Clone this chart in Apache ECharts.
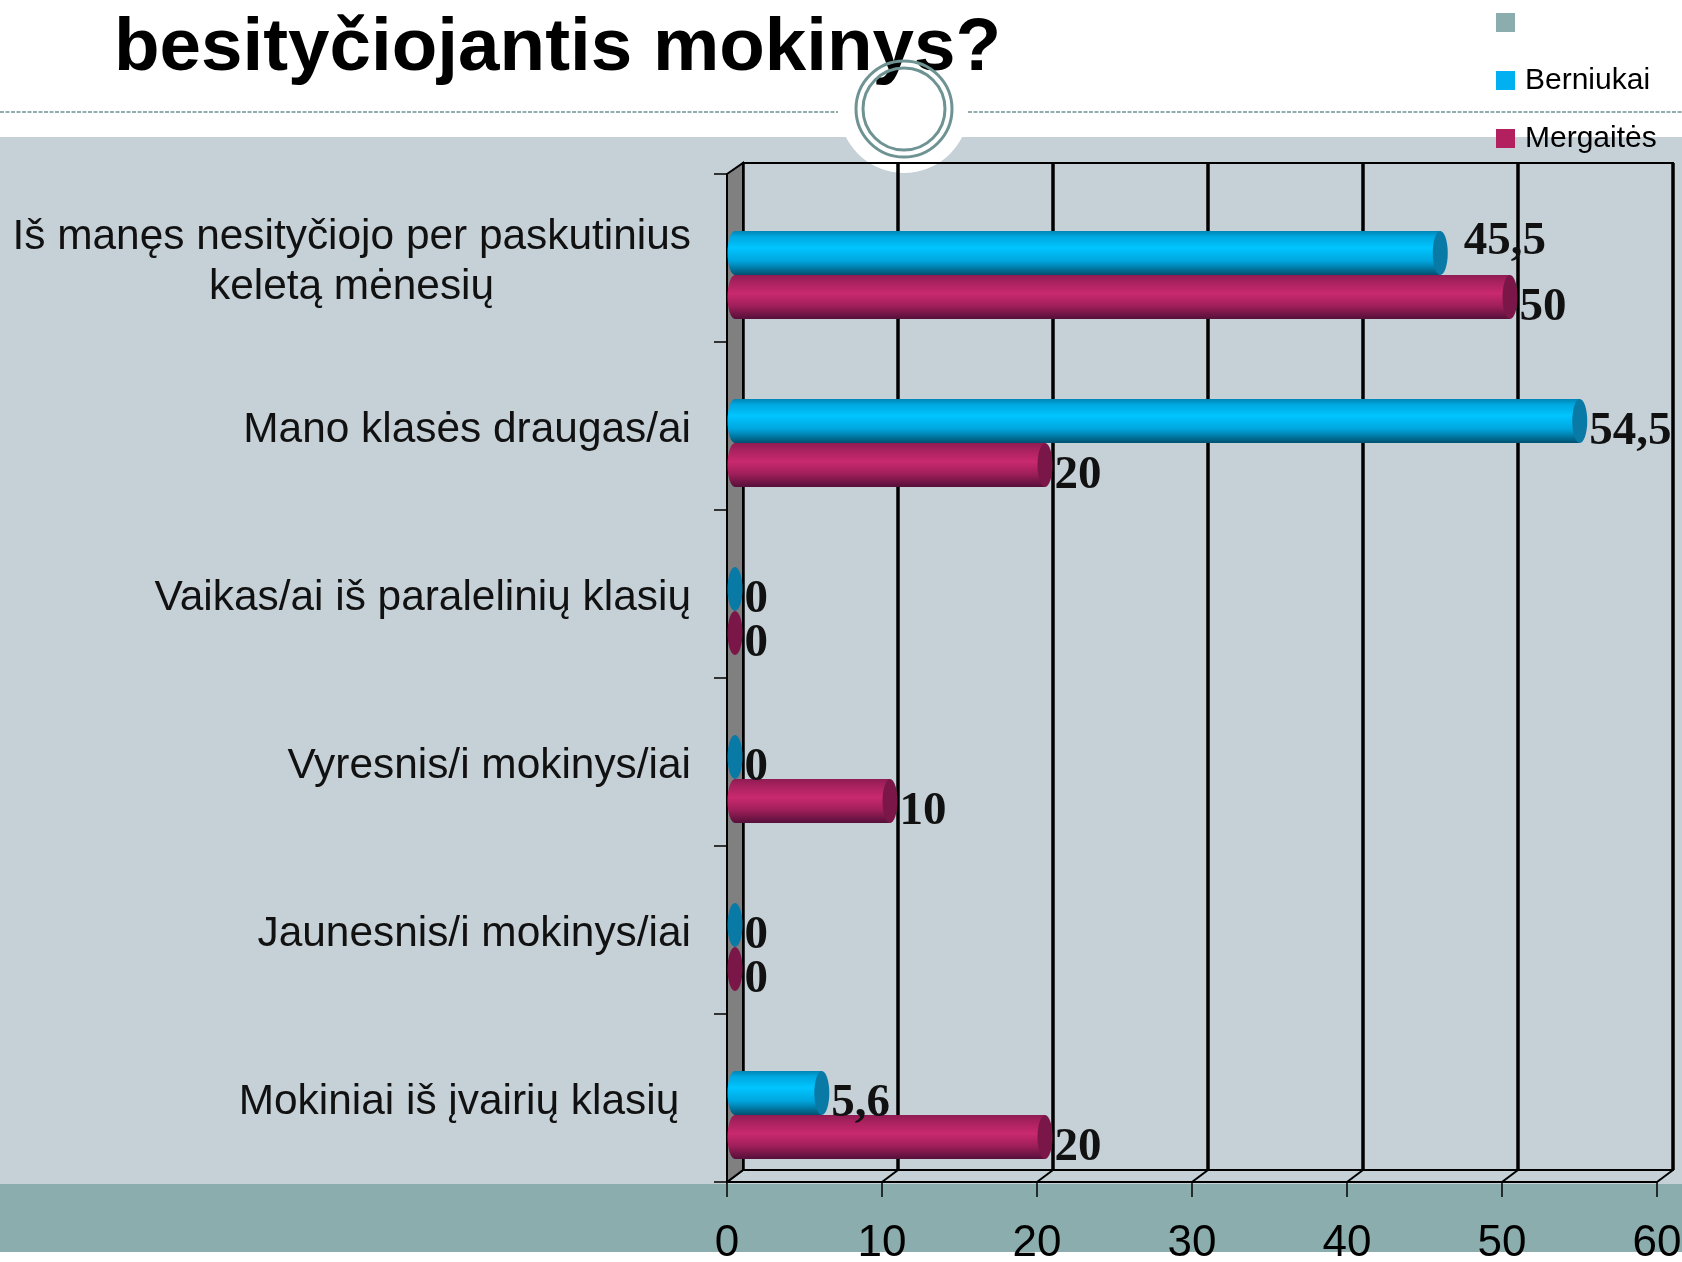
<!DOCTYPE html>
<html><head><meta charset="utf-8">
<style>html,body{margin:0;padding:0;background:#fff}#c{width:1682px;height:1262px}</style>
<script src="https://cdn.jsdelivr.net/npm/echarts@6/dist/echarts.min.js"></script>
</head><body><div id="c"></div>
<script>
const titleText = 'besityčiojantis mokinys?';
const categories = ['Iš manęs nesityčiojo per paskutinius\nkeletą mėnesių','Mano klasės draugas/ai','Vaikas/ai iš paralelinių klasių','Vyresnis/i mokinys/iai','Jaunesnis/i mokinys/iai','Mokiniai iš įvairių klasių'];
const boys = [45.5,54.5,0,0,0,5.6];
const girls = [50,20,0,10,0,20];
const valueMax = 60;
const valueStep = 10;
const floorTicks = [0,10,20,30,40,50,60];
const labelTrail = ['\u00a0'.repeat(16)+'\u2009','','','','','\u00a0'];

const F = {sans:'"Liberation Sans",Arial,sans-serif', serif:'"Liberation Serif","Times New Roman",serif'};
const C = {wall:'#C5D0D7', band:'#8CADAD', ring:'#6F9393', boys:'#00B0F0', girls:'#B2205F', spare:'#8CADAD'};
const nudges = {'0-0':[14,-22]};
const depth = {x:16,y:12};

function cyl(name, data, color, sign, stops, capColor, seriesIdx){
  return {type:'custom',name,xAxisIndex:2,yAxisIndex:2,coordinateSystem:'cartesian2d',z:5,clip:false,silent:true,
    itemStyle:{color},encode:{x:0,y:1},
    data:data.map((v,i)=>[v,i]),
    renderItem(p,api){
      const v=api.value(0), i=p.dataIndex;
      const a=api.coord([0,i]), b=api.coord([v,i]);
      const h=Math.round(api.size([0,1])[1]*0.2635), rx=7.5;
      const yc=a[1]+sign*h/2;
      const grad={type:'linear',x:0,y:0,x2:0,y2:1,colorStops:stops};
      const ch=[];
      if(v>0){
        ch.push({type:'ellipse',shape:{cx:a[0],cy:yc,rx,ry:h/2},style:{fill:grad}});
        ch.push({type:'rect',shape:{x:a[0],y:yc-h/2,width:b[0]-a[0],height:h},style:{fill:grad}});
      }
      ch.push({type:'ellipse',shape:{cx:b[0],cy:yc,rx,ry:h/2},style:{fill:capColor}});
      const n=nudges[seriesIdx+'-'+i]||[0,0];
      ch.push({type:'text',z2:100,style:{text:String(v).replace('.',','),x:b[0]+rx+2+n[0],y:yc+11+n[1],
        font:'bold 47px '+F.serif,fill:'#111',textAlign:'left',textVerticalAlign:'middle',align:'left',verticalAlign:'middle'}});
      return {type:'group',children:ch};
    }};
}

const blueStops=[{offset:0,color:'#0085B5'},{offset:.12,color:'#00A6DE'},{offset:.38,color:'#00C5FF'},{offset:.68,color:'#00A6DE'},{offset:1,color:'#00506F'}];
const pinkStops=[{offset:0,color:'#8F1C54'},{offset:.15,color:'#A8215F'},{offset:.42,color:'#C9296E'},{offset:.7,color:'#A01F5A'},{offset:1,color:'#55103A'}];

const hiddenCat={type:'category',data:categories,inverse:true,show:false};
const chart=echarts.init(document.getElementById('c'));
chart.setOption({
  animation:false,
  backgroundColor:'#fff',
  title:{text:titleText,left:109,top:7,z:50,textStyle:{fontFamily:F.sans,fontWeight:'bold',fontSize:74.6,color:'#000'}},
  legend:{orient:'vertical',left:1496,top:2,padding:0,itemWidth:19,itemHeight:19,itemGap:17,icon:'rect',selectedMode:false,z:60,
    textStyle:{fontFamily:F.sans,fontSize:30,color:'#000',lineHeight:41,padding:[0,0,0,5]},
    data:[{name:' ',itemStyle:{color:C.spare}},{name:'Berniukai',itemStyle:{color:C.boys}},{name:'Mergaitės',itemStyle:{color:C.girls}}]},
  grid:[
    {left:743,top:163,width:930,height:1007,outerBoundsMode:'none',show:true,borderColor:'#000',borderWidth:2,backgroundColor:'transparent',z:1},
    {left:727,top:174,width:930,height:1008,outerBoundsMode:'none',z:2},
    {left:735,top:191,width:930,height:1008,outerBoundsMode:'none',z:3},
    {left:727,top:178,width:930,height:1008,outerBoundsMode:'none',z:2}
  ],
  xAxis:[
    {gridIndex:0,type:'value',min:0,max:valueMax,interval:valueStep,axisLine:{show:false},axisTick:{show:false},axisLabel:{show:false},
      splitLine:{show:true,lineStyle:{color:'#000',width:3.5}}},
    {gridIndex:1,type:'value',min:0,max:valueMax,interval:valueStep,splitLine:{show:false},
      axisLine:{show:true,onZero:false,lineStyle:{color:'#000',width:2}},
      axisTick:{show:true,length:15,lineStyle:{color:'#000',width:1.5}},
      axisLabel:{show:true,margin:40,fontFamily:F.sans,fontSize:44,color:'#000',hideOverlap:false}},
    {gridIndex:2,type:'value',min:0,max:valueMax,interval:valueStep,show:false},
    {gridIndex:3,type:'value',min:0,max:valueMax,interval:valueStep,show:false}
  ],
  yAxis:[
    Object.assign({gridIndex:0},hiddenCat),
    {gridIndex:1,type:'category',data:categories,inverse:true,
      axisLine:{show:true,onZero:false,lineStyle:{color:'#000',width:2}},
      axisTick:{show:true,length:13,alignWithLabel:false,lineStyle:{color:'#000',width:1.5}},
      axisLabel:{show:false}},
    Object.assign({gridIndex:2},hiddenCat),
    {gridIndex:3,type:'category',data:categories,inverse:true,
      axisLine:{show:false},axisTick:{show:false},
      axisLabel:{show:true,margin:36,interval:0,fontFamily:F.sans,fontSize:42.4,lineHeight:50,color:'#111',align:'right',
        formatter:(v,i)=>v+labelTrail[i]}}
  ],
  series:[
    {type:'custom',name:' ',xAxisIndex:2,yAxisIndex:2,data:[],renderItem:()=>null,itemStyle:{color:C.spare}},
    {type:'custom',xAxisIndex:1,yAxisIndex:1,z:1,silent:true,clip:false,encode:{x:0,y:1},
      data:floorTicks.map(v=>[v,categories.length-1]),
      renderItem(p,api){
        const c=api.coord([api.value(0),api.value(1)]);
        const y=c[1]+api.size([0,1])[1]/2;
        return {type:'line',shape:{x1:c[0],y1:y,x2:c[0]+depth.x,y2:y-depth.y},style:{stroke:'#000',lineWidth:2}};
      }},
    {type:'custom',xAxisIndex:1,yAxisIndex:1,z:1,silent:true,clip:false,encode:{x:0,y:1},
      data:[[0,0]],
      renderItem(p,api){
        const band=api.size([0,1])[1];
        const top=api.coord([0,0]), bot=api.coord([0,categories.length-1]);
        const y1=top[1]-band/2, y2=bot[1]+band/2, x=top[0];
        return {type:'polygon',shape:{points:[[x,y1],[x+depth.x,y1-11],[x+depth.x,y2-depth.y],[x,y2]]},style:{fill:'#808080',stroke:'#000',lineWidth:2}};
      }},
    {type:'custom',xAxisIndex:0,yAxisIndex:0,z:1,silent:true,clip:false,encode:{x:0,y:1},
      data:[[0,categories.length-1]],
      renderItem(p,api){
        const band=api.size([0,1])[1];
        const c0=api.coord([0,categories.length-1]), c1=api.coord([valueMax,categories.length-1]);
        const y=c0[1]+band/2;
        return {type:'line',shape:{x1:c0[0],y1:y,x2:c1[0],y2:y},style:{stroke:'#000',lineWidth:2}};
      }},
    cyl('Berniukai',boys,C.boys,-1,blueStops,'#0979A6',0),
    cyl('Mergaitės',girls,C.girls,1,pinkStops,'#7B1648',1)
  ],
  graphic:[
    {type:'rect',z:-10,silent:true,shape:{x:0,y:137,width:1682,height:1047},style:{fill:C.wall}},
    {type:'rect',z:-10,silent:true,shape:{x:0,y:1184,width:1682,height:68},style:{fill:C.band}},
    {type:'circle',z:-9,silent:true,shape:{cx:904,cy:108,r:65},style:{fill:'#fff'}},
    {type:'line',z:-9,silent:true,shape:{x1:0,y1:112,x2:838,y2:112},style:{stroke:C.ring,lineWidth:1.5,lineDash:[4,1.5]}},
    {type:'line',z:-9,silent:true,shape:{x1:968,y1:112,x2:1682,y2:112},style:{stroke:C.ring,lineWidth:1.5,lineDash:[4,1.5]}},
    {type:'circle',z:70,silent:true,shape:{cx:904,cy:109,r:48},style:{fill:'none',stroke:C.ring,lineWidth:3}},
    {type:'circle',z:70,silent:true,shape:{cx:904,cy:109,r:41},style:{fill:'none',stroke:C.ring,lineWidth:3}}
  ]
});
</script></body></html>
